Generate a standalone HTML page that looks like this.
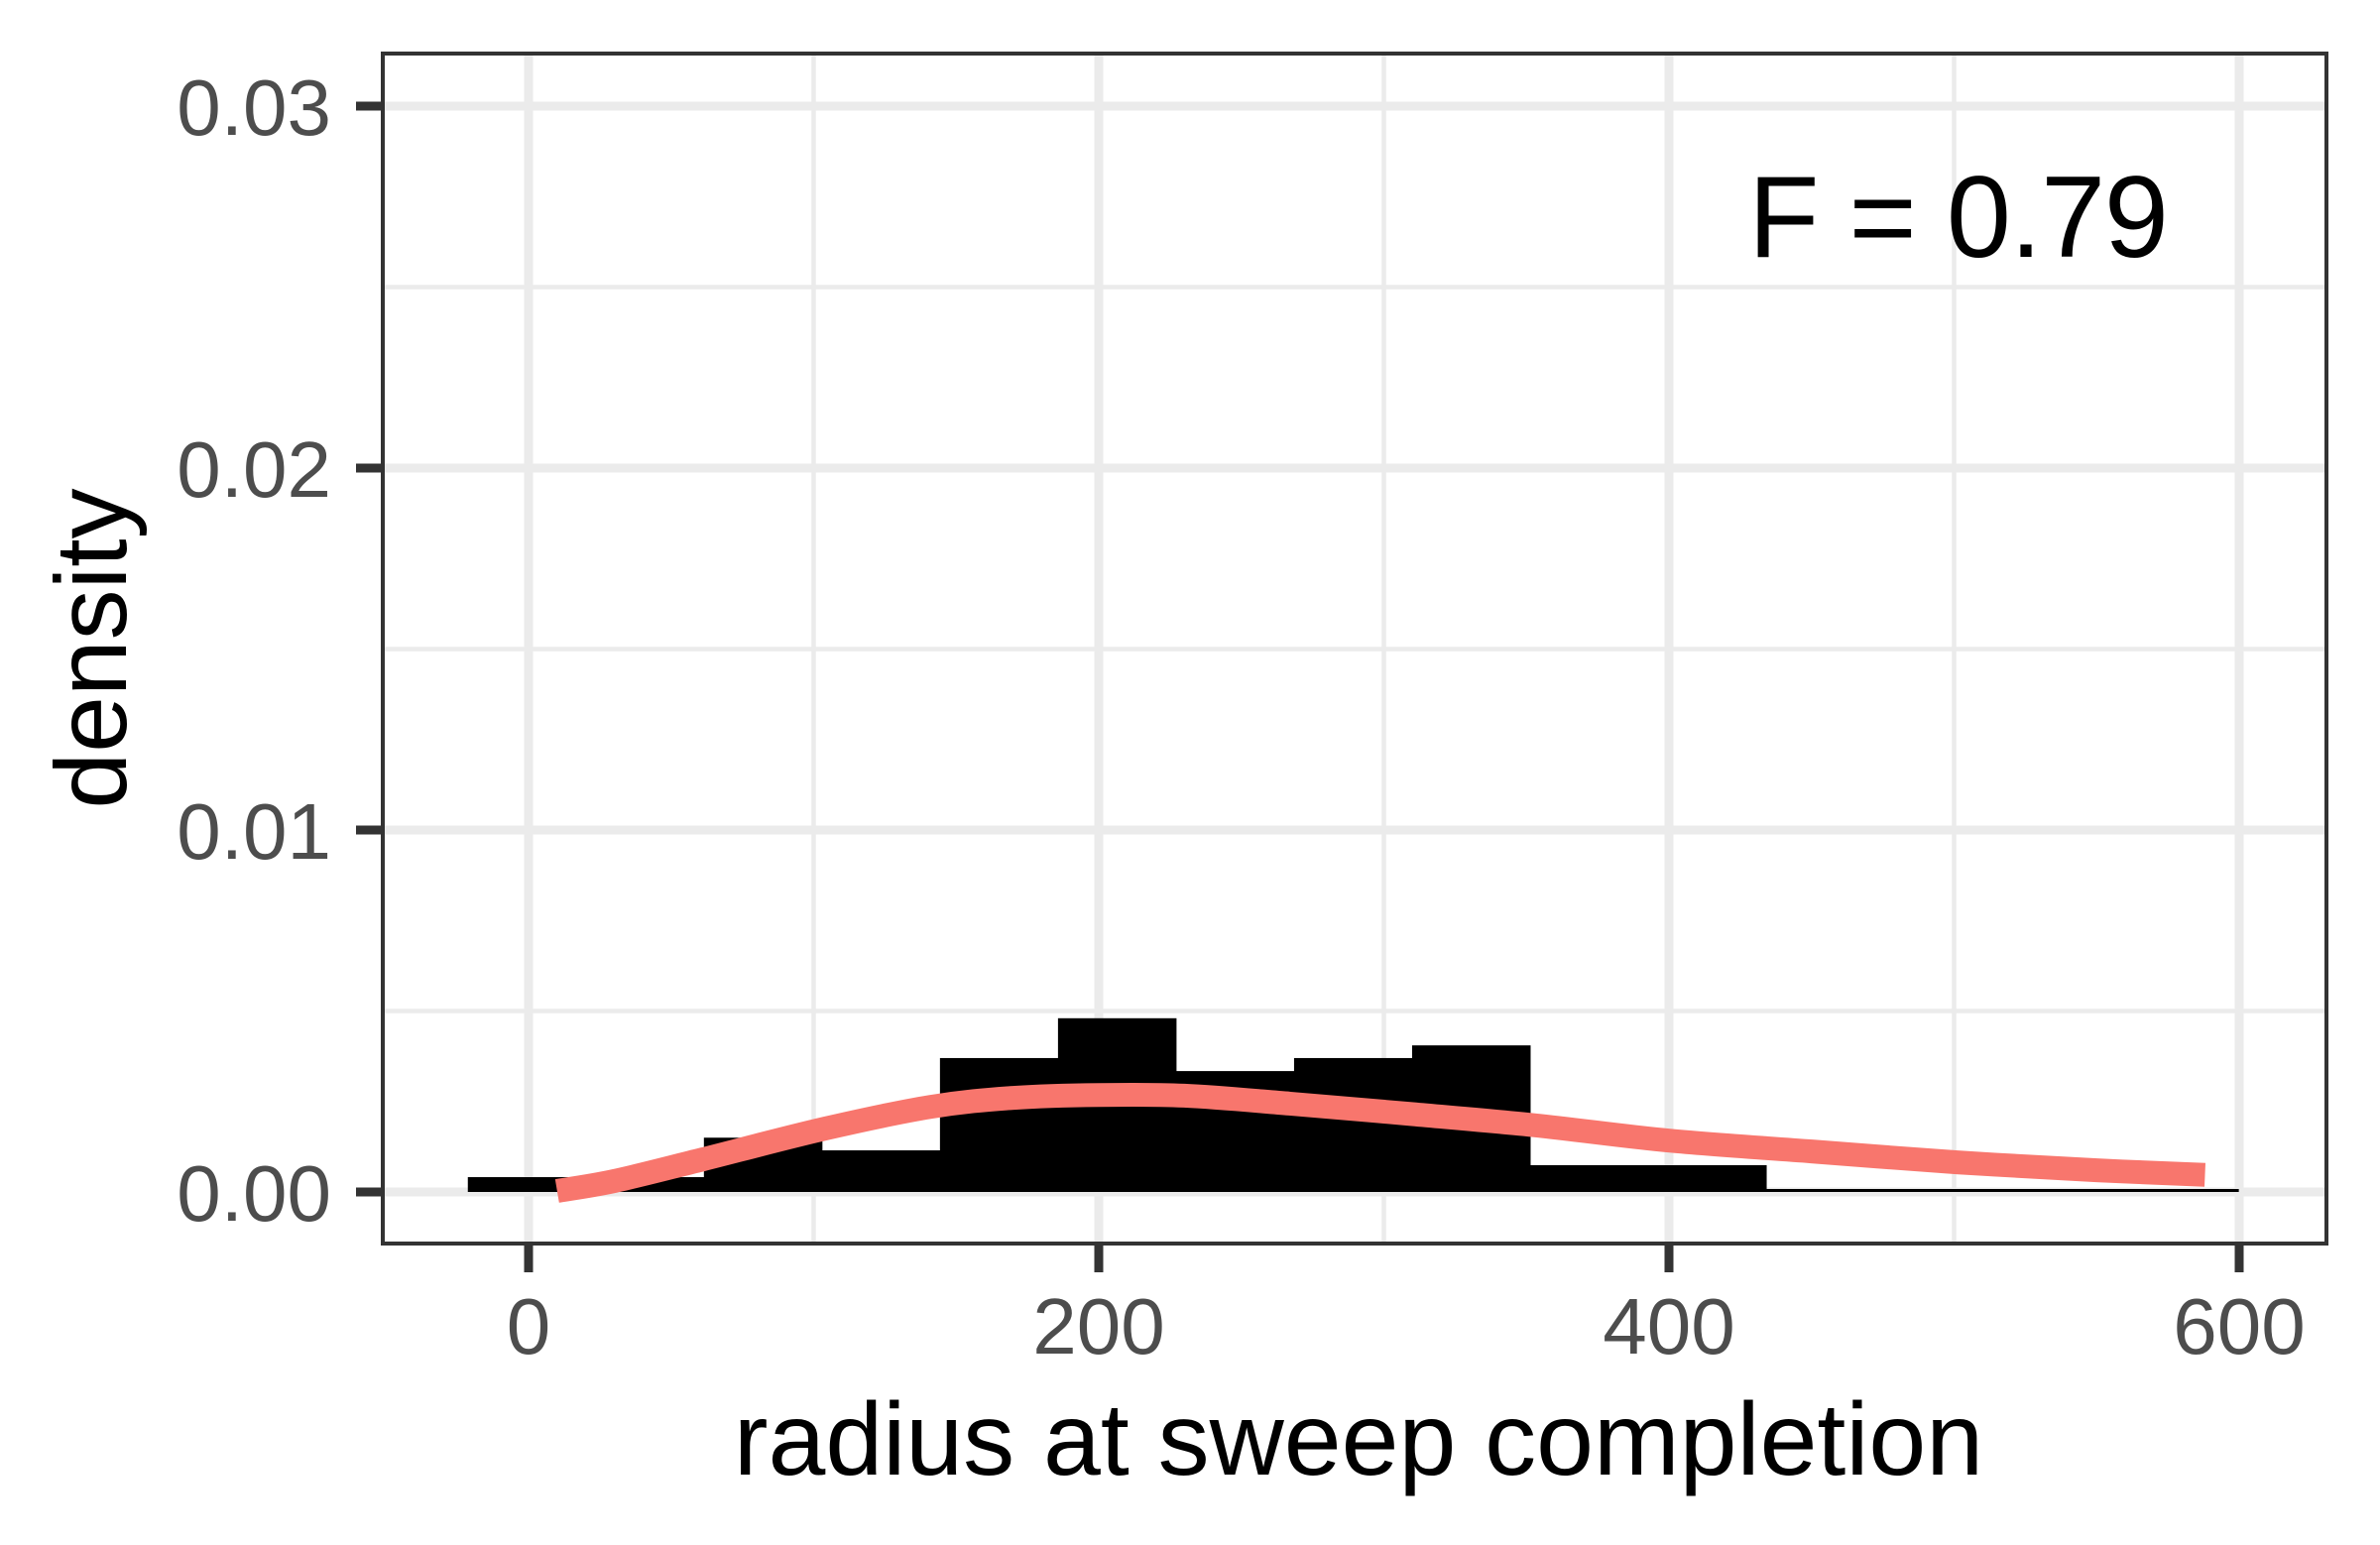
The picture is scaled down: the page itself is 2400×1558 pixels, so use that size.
<!DOCTYPE html>
<html><head><meta charset="utf-8"><style>
html,body{margin:0;padding:0;background:#fff;}
svg{display:block;}
text{font-family:"Liberation Sans",sans-serif;}
</style></head><body>
<svg id="chart" width="2400" height="1558" viewBox="0 0 2400 1558" xmlns="http://www.w3.org/2000/svg">
<rect x="0" y="0" width="2400" height="1558" fill="#fff"/>
<g id="grid"></g>
<g id="bars"></g>
<g id="curve"></g>
<rect x="386" y="54" width="1960" height="1200" fill="none" stroke="#333" stroke-width="4"/>
<g id="axes"></g>
<text x="1370" y="1487" font-size="104" text-anchor="middle" fill="#000">radius at sweep completion</text>
<text transform="translate(127,654) rotate(-90)" font-size="102" text-anchor="middle" fill="#000">density</text>
<text x="1975" y="259" font-size="117" text-anchor="middle" fill="#000" textLength="424">F = 0.79</text>
</svg>
<script>
const binStarts = [-21.3, 20.1, 61.5, 102.9, 144.3, 185.7, 227.1, 268.5, 309.9, 351.3, 392.7, 434.1, 475.5, 516.9, 558.3];
const binWidth = 41.4;
const binDensity = [0.00041, 0.00041, 0.0015, 0.00115, 0.0037, 0.0048, 0.00334, 0.0037, 0.00405, 0.00074, 0.00074, 0, 0, 0, 0];
const curveX = [10, 30, 61, 104, 141, 170, 200, 230, 267, 310, 353, 400, 450, 501, 550, 588];
const curveY = [0.00003, 0.0003, 0.0009, 0.00175, 0.00235, 0.0026, 0.00268, 0.00266, 0.00244, 0.00215, 0.00184, 0.00142, 0.00112, 0.00082, 0.0006, 0.00047];
const xTicks = [0, 200, 400, 600];
const xTickLabels = ["0", "200", "400", "600"];
const xMinor = [100, 300, 500];
const yTicks = [0, 0.01, 0.02, 0.03];
const yTickLabels = ["0.00", "0.01", "0.02", "0.03"];
const yMinor = [0.005, 0.015, 0.025];

const NS = "http://www.w3.org/2000/svg";
function sx(v){ return 533 + v * 2.875; }
function sy(v){ return 1202 - v * 36500; }
function mk(tag, attrs, parent){
  const e = document.createElementNS(NS, tag);
  for (const k in attrs) e.setAttribute(k, attrs[k]);
  parent.appendChild(e);
  return e;
}
const grid = document.getElementById('grid');
const L = 388, R = 2344, T = 56, B = 1252;
yMinor.forEach(v => {
  const l = mk('line', {x1:L, x2:R, y1:sy(v), y2:sy(v), stroke:'#EBEBEB', 'stroke-width':4.5}, grid);
  
  
});
xMinor.forEach(v => {
  const l = mk('line', {x1:sx(v), x2:sx(v), y1:T, y2:B, stroke:'#EBEBEB', 'stroke-width':4.5}, grid);
  
  
});
yTicks.forEach(v => {
  const l = mk('line', {x1:L, x2:R, y1:sy(v), y2:sy(v), stroke:'#EBEBEB', 'stroke-width':9}, grid);
  
  
});
xTicks.forEach(v => {
  const l = mk('line', {x1:sx(v), x2:sx(v), y1:T, y2:B, stroke:'#EBEBEB', 'stroke-width':9}, grid);
  
  
});
const bars = document.getElementById('bars');
binStarts.forEach((s, i) => {
  const x0 = sx(s), x1 = sx(s + binWidth);
  const h = Math.max(binDensity[i] * 36500, 3);
  const r = mk('rect', {x:x0, y:sy(0) - h, width:x1 - x0 + 0.5, height:h, fill:'#000'}, bars);
  
  
});
const curve = document.getElementById('curve');
const pts = curveX.map((x, i) => [sx(x), sy(curveY[i])]);
let d = 'M' + pts[0][0].toFixed(1) + ' ' + pts[0][1].toFixed(1);
for (let i = 0; i < pts.length - 1; i++) {
  const p0 = pts[Math.max(i - 1, 0)], p1 = pts[i], p2 = pts[i + 1], p3 = pts[Math.min(i + 2, pts.length - 1)];
  const c1 = [p1[0] + (p2[0] - p0[0]) / 6, p1[1] + (p2[1] - p0[1]) / 6];
  const c2 = [p2[0] - (p3[0] - p1[0]) / 6, p2[1] - (p3[1] - p1[1]) / 6];
  d += ' C' + c1[0].toFixed(1) + ' ' + c1[1].toFixed(1) + ' ' + c2[0].toFixed(1) + ' ' + c2[1].toFixed(1) + ' ' + p2[0].toFixed(1) + ' ' + p2[1].toFixed(1);
}
const p = mk('path', {d:d, fill:'none', stroke:'#F8766D', 'stroke-width':24}, curve);


const axes = document.getElementById('axes');
yTicks.forEach((v, i) => {
  const t = mk('line', {x1:359, x2:386, y1:sy(v), y2:sy(v), stroke:'#333', 'stroke-width':9}, axes);
  
  
  const tx = mk('text', {x:334, y:sy(v) + 29, 'font-size':80, 'text-anchor':'end', fill:'#4D4D4D'}, axes);
  tx.textContent = yTickLabels[i];
  
  
});
xTicks.forEach((v, i) => {
  const t = mk('line', {x1:sx(v), x2:sx(v), y1:1254, y2:1283, stroke:'#333', 'stroke-width':9}, axes);
  
  
  const tx = mk('text', {x:sx(v), y:1365, 'font-size':80, 'text-anchor':'middle', fill:'#4D4D4D'}, axes);
  tx.textContent = xTickLabels[i];
  
  
});
</script>
</body></html>
